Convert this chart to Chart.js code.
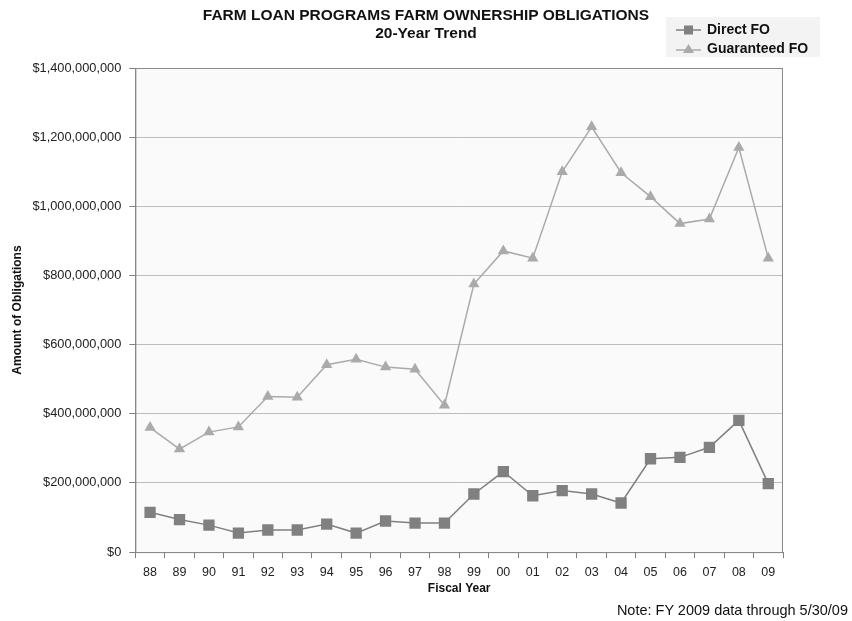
<!DOCTYPE html>
<html>
<head>
<meta charset="utf-8">
<script src="https://cdn.jsdelivr.net/npm/chart.js@4/dist/chart.umd.min.js"></script>
<style>
  body { margin: 0; background: #fff; font-family: "Liberation Sans", Arial, sans-serif; }
  #wrap { position: relative; width: 852px; height: 621px; }
  #title { position: absolute; left: 0; width: 852px; top: 6px; text-align: center; font-weight: bold; font-size: 15.5px; line-height: 18px; color: #111; }
  #legend { position: absolute; left: 666px; top: 17px; width: 154px; height: 40px; background: #f3f3f3; font-weight: bold; font-size: 14px; color: #111; }
  #legend .row { position: absolute; left: 10px; height: 17px; line-height: 17px; }
  #legend svg { vertical-align: middle; margin-right: 6px; }
  #note { position: absolute; right: 4px; top: 602px; font-size: 14.5px; color: #111; }
</style>
</head>
<body>
<div id="wrap">
  <canvas id="chart" width="852" height="621"></canvas>
  <div id="title">FARM LOAN PROGRAMS FARM OWNERSHIP OBLIGATIONS<br>20-Year Trend</div>
  <div id="legend">
    <div class="row" style="top:4px"><svg width="25" height="12"><line x1="0" y1="6" x2="25" y2="6" stroke="#808080" stroke-width="1.5"/><rect x="8" y="1.5" width="9" height="9" fill="#808080"/></svg>Direct FO</div>
    <div class="row" style="top:23px"><svg width="25" height="12"><line x1="0" y1="7" x2="25" y2="7" stroke="#aaaaaa" stroke-width="1.5"/><polygon points="12.5,1 18,10 7,10" fill="#aaaaaa"/></svg>Guaranteed FO</div>
  </div>
  <div id="note">Note: FY 2009 data through 5/30/09</div>
</div>
<script>
// Fiscal years and obligations (dollars)
const years = ['88', '89', '90', '91', '92', '93', '94', '95', '96', '97', '98',
               '99', '00', '01', '02', '03', '04', '05', '06', '07', '08', '09'];

const directFO = [115e6, 94e6, 78e6, 55e6, 64e6, 64e6, 81e6, 55e6, 90e6, 84e6, 84e6,
                  168e6, 233e6, 163e6, 178e6, 168e6, 142e6, 270e6, 274e6, 303e6, 381e6, 198e6];

const guaranteedFO = [360e6, 298e6, 347e6, 362e6, 450e6, 448e6, 542e6, 558e6, 535e6, 529e6, 425e6,
                      775e6, 871e6, 850e6, 1100e6, 1230e6, 1097e6, 1028e6, 950e6, 963e6, 1170e6, 850e6];

const yTicks = [0, 200e6, 400e6, 600e6, 800e6, 1000e6, 1200e6, 1400e6];

// Plot area background + frame
const plotFrame = {
    id: 'plotFrame',
    beforeDraw(chart) {
        const { ctx, chartArea: a } = chart;
        ctx.save();
        ctx.fillStyle = '#fafafa';
        ctx.fillRect(a.left, a.top, a.right - a.left, a.bottom - a.top);
        ctx.restore();
    },
    afterDatasetsDraw(chart) {
        const { ctx, chartArea: a } = chart;
        ctx.save();
        ctx.strokeStyle = '#8a8a8a';
        ctx.lineWidth = 1;
        ctx.strokeRect(a.left + 0.5, a.top + 0.5, a.right - a.left - 1, a.bottom - a.top);
        ctx.restore();
    }
};

const fam = '"Liberation Sans", Arial, sans-serif';
const axisTitleFont = { family: fam, size: 12, weight: 'bold' };

new Chart(document.getElementById('chart'), {
    type: 'line',
    data: {
        labels: years,
        datasets: [
            {
                label: 'Direct FO',
                data: directFO,
                borderColor: '#808080',
                backgroundColor: '#808080',
                borderWidth: 1.5,
                pointStyle: 'rect',
                pointRadius: 8,
                pointBorderWidth: 0,
                tension: 0
            },
            {
                label: 'Guaranteed FO',
                data: guaranteedFO,
                borderColor: '#aaaaaa',
                backgroundColor: '#aaaaaa',
                borderWidth: 1.5,
                pointStyle: 'triangle',
                pointRadius: 6.5,
                pointBorderWidth: 0,
                tension: 0
            }
        ]
    },
    options: {
        responsive: false,
        animation: false,
        layout: { padding: { top: 68, right: 69, bottom: 25, left: 10 } },
        plugins: {
            legend: { display: false },
            title: { display: false },
            tooltip: { enabled: false }
        },
        scales: {
            x: {
                offset: true,
                grid: { offset: true, drawOnChartArea: false, drawTicks: true, tickLength: 6, color: '#808080' },
                border: { color: '#808080' },
                ticks: { color: '#222', font: { family: fam, size: 12.5, lineHeight: 1 }, padding: 8, maxRotation: 0 },
                title: { display: true, text: 'Fiscal Year', color: '#111', font: axisTitleFont, padding: { top: -5, bottom: 0 } }
            },
            y: {
                min: 0,
                max: 1400e6,
                afterBuildTicks: (axis) => { axis.ticks = yTicks.map(v => ({ value: v })); },
                grid: { color: '#bdbdbd', tickLength: 6, tickColor: '#808080' },
                border: { color: '#808080' },
                ticks: {
                    color: '#222',
                    font: { family: fam, size: 12.8 },
                    padding: 8,
                    callback: (v) => '$' + Number(v).toLocaleString('en-US')
                },
                title: { display: true, text: 'Amount of Obligations', color: '#111', font: axisTitleFont, padding: { top: 0, bottom: 0 } }
            }
        }
    },
    plugins: [plotFrame]
});
</script>
</body>
</html>
